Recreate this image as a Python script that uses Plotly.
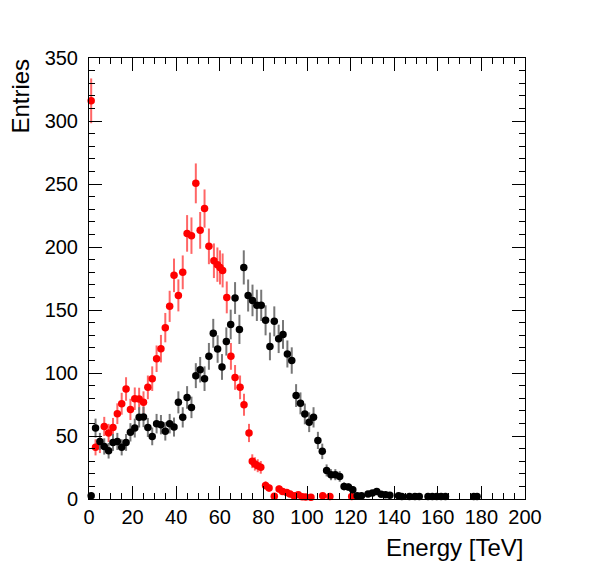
import numpy as np
import plotly.graph_objects as go

# red histogram (bin centre, entries)
red_x = [1, 3, 5, 7, 9, 11, 13, 15, 17, 19, 21, 23, 25, 27, 29, 31, 33, 35, 37, 39,
         41, 43, 45, 47, 49, 51, 53, 55, 57.3, 58.9, 60.1, 61.3, 63.2, 65.1, 67, 69.3,
         71.1, 73.4, 74.9, 76.1, 77.4, 78.8, 81, 82.6, 85, 87.2, 88.8, 90.7, 92.2, 94,
         96, 97.8, 99.4, 101.8, 107.2, 110.5, 120.5]
red_y = [316, 41.0, 43, 57.6, 52.4, 56.8, 67.7, 75.6, 87.3, 71.1, 79.6, 79.4, 76.7, 88.6,
         95.5, 111.3, 119.3, 136, 152.9, 177.5, 161.6, 179.9, 210.8, 209, 250.5, 213.2,
         230.5, 200.5, 189.1, 186, 183.8, 181.4, 160, 113.2, 96.5, 88.6, 74.8, 52.4, 30,
         27.8, 26.4, 25.1, 10.8, 8.7, 2.1, 7.9, 6, 5.2, 4, 2.6, 3.4, 1.8, 1.6, 1.3, 2.6,
         2, 2]

# black histogram
black_x = [1, 3, 5, 7, 9, 11, 13, 15, 17, 19, 21, 23, 25, 27, 29, 31, 33, 35, 37, 39,
           41, 43, 45, 47, 49, 51, 53, 55, 57, 59, 61, 63, 65, 67, 69, 71, 73, 75, 77, 79,
           81, 83, 85, 87, 89, 91, 93, 95, 97, 99, 101, 103, 105, 107, 109, 111, 113, 115,
           117, 119, 121, 123, 125, 128, 130, 132, 134, 136, 138, 142, 143.5, 147, 149.5,
           151.5, 155.5, 157.5, 159.5, 161.5, 163.5, 176.5, 178]
black_y = [2.5, 56.3, 45.7, 41.7, 38.3, 44.9, 45.7, 41.0, 44.9, 52.9, 56.3, 64.8, 65.1,
           56.8, 49.7, 59.8, 59.0, 53.7, 59.8, 57.1, 76.7, 64.8, 80.6, 72.7, 97.9, 102.6,
           95.5, 113.2, 131.5, 119, 104.8, 125, 138.5, 159.5, 134.6, 183.8, 161.5, 157.6,
           153.7, 153.7, 141.8, 121.1, 141, 127.1, 130.6, 115.1, 109.9, 82.1, 75.9, 67.5,
           60.9, 64.8, 46.5, 37.8, 22.7, 19.3, 19.3, 17.9, 10, 9.5, 7.4, 2.6, 2.6, 4, 4.8,
           6, 3.8, 3.4, 3, 2.6, 2, 2, 2, 2, 2, 2, 2, 2, 2, 2, 2]

x_ticks = [0, 20, 40, 60, 80, 100, 120, 140, 160, 180, 200]
y_ticks = [0, 50, 100, 150, 200, 250, 300, 350]


def hist_points(x, y, color, bar_color):
    # poisson errors, sqrt(N)
    return go.Scatter(
        x=x, y=y, mode="markers",
        marker=dict(color=color, size=7.5),
        error_y=dict(type="data", array=np.sqrt(y), color=bar_color,
                     thickness=2, width=0),
        cliponaxis=False, showlegend=False,
    )


fig = go.Figure()
fig.add_trace(hist_points(red_x, red_y, "#ff0000", "#ff6666"))
fig.add_trace(hist_points(black_x, black_y, "#000000", "#777777"))

axis_style = dict(
    showline=True, linecolor="black", linewidth=1, mirror="ticks",
    ticks="inside", ticklen=13, tickcolor="black", tickwidth=1,
    showgrid=False, zeroline=False,
    tickfont=dict(family="Liberation Sans, Arial", size=20, color="black"),
)

fig.update_xaxes(range=[0, 200], tickvals=x_ticks,
                 minor=dict(ticks="inside", ticklen=6, dtick=5, tickcolor="black"),
                 **axis_style)
fig.update_yaxes(range=[0, 350], tickvals=y_ticks, ticklabelstandoff=6,
                 minor=dict(ticks="inside", ticklen=6, dtick=10, tickcolor="black"),
                 **axis_style)

title_font = dict(family="Liberation Sans, Arial", size=24, color="black")
fig.add_annotation(text="Energy [TeV]", x=1, y=-0.111, xref="paper", yref="paper",
                   xanchor="right", yanchor="middle", showarrow=False, font=title_font)
fig.add_annotation(text="Entries", x=-0.158, y=1, xref="paper", yref="paper",
                   xanchor="center", yanchor="top", textangle=-90, showarrow=False,
                   borderpad=0, font=title_font)

# page body adds an 8px offset, so the figure is drawn 8px smaller
fig.update_layout(
    width=590, height=567,
    margin=dict(l=81, r=73, t=50, b=76),
    plot_bgcolor="white", paper_bgcolor="white",
)

fig.write_html("out.html")
